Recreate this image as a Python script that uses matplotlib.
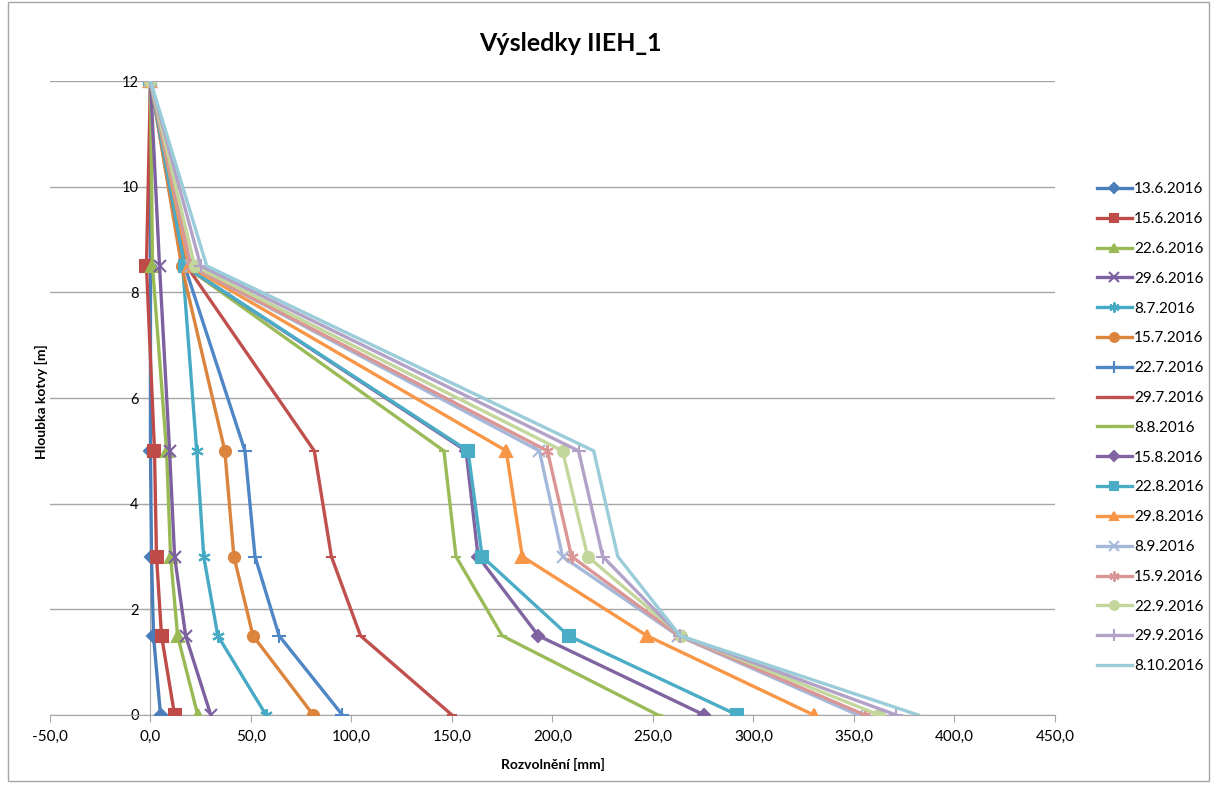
import matplotlib.pyplot as plt
from matplotlib.patches import Rectangle
import numpy as np

plt.rcParams['font.family'] = ['Lato', 'DejaVu Sans']

depths = [12, 8.5, 5, 3, 1.5, 0]

dates = ['13.6.2016', '15.6.2016', '22.6.2016', '29.6.2016', '8.7.2016',
         '15.7.2016', '22.7.2016', '29.7.2016', '8.8.2016', '15.8.2016',
         '22.8.2016', '29.8.2016', '8.9.2016', '15.9.2016', '22.9.2016',
         '29.9.2016', '8.10.2016']

v_13_6 = [0, 0, 0, 0.5, 1.5, 5]
v_15_6 = [0, -2, 2, 3, 5.5, 12]
v_22_6 = [0, 1, 8, 10, 13.5, 23.5]
v_29_6 = [0, 4.5, 9.5, 12, 17.5, 30]
v_8_7 = [0, 16, 23, 26.5, 33.5, 57.5]
v_15_7 = [0, 15.5, 37, 41.5, 51, 81]
v_22_7 = [0, 17, 47, 52, 64, 95.5]
v_29_7 = [0, 18, 81.5, 90, 104.5, 150]
v_8_8 = [0, 17, 146, 152, 175, 252.5]
v_15_8 = [0, 17, 157, 163, 193, 275.5]
v_22_8 = [0, 17, 158, 165, 208, 292]
v_29_8 = [0, 19, 177, 185, 247, 330]
v_8_9 = [0, 20, 193.5, 205, 262.5, 352]
v_15_9 = [0, 20, 197.5, 209.5, 263, 355.5]
v_22_9 = [0, 22, 205, 217.5, 264, 362.5]
v_29_9 = [0, 25, 213, 225, 263.5, 371]
v_8_10 = [0, 28, 220.5, 232.5, 263.5, 382]

values = [v_13_6, v_15_6, v_22_6, v_29_6, v_8_7, v_15_7, v_22_7, v_29_7,
          v_8_8, v_15_8, v_22_8, v_29_8, v_8_9, v_15_9, v_22_9, v_29_9, v_8_10]

colors = ['#4A7EBB', '#BE4B48', '#98B954', '#7D60A0', '#46AAC5', '#DB843D',
          '#4F86C6', '#C0504D', '#9BBB59', '#8064A2', '#4BACC6', '#F79646',
          '#A5B8D9', '#D99694', '#C3D69B', '#B3A2C7', '#9BCCDA']
markers = ['D', 's', '^', 'x', (6, 2, 0), 'o', '+', '_', '_', 'D', 's', '^',
           'x', (6, 2, 0), 'o', '+', 'None']
msizes = [6, 8, 8, 9, 9, 8, 10, 7, 7, 6, 8, 8, 9, 9, 8, 10, 6]

fig = plt.figure(figsize=(12.13, 7.87), dpi=100)
ax = fig.add_axes([0.0412, 0.0915, 0.8285, 0.8055])

for i in range(len(dates)):
    ax.plot(values[i], depths, color=colors[i], marker=markers[i],
            markersize=msizes[i], linewidth=2.4, markeredgewidth=1.5,
            label=dates[i], zorder=3)

ax.set_xlim(-50, 450)
ax.set_ylim(0, 12)
xt = np.arange(-50, 451, 50)
ax.set_xticks(xt)
ax.set_xticklabels([('%.1f' % t).replace('.', ',') for t in xt])
ax.set_yticks(range(0, 13, 2))
ax.yaxis.grid(True, color='#A6A6A6', linewidth=1)
ax.set_axisbelow(True)

for s in ['top', 'right']:
    ax.spines[s].set_visible(False)
ax.spines['left'].set_position(('data', 0))
ax.spines['left'].set_color('#A6A6A6')
ax.spines['bottom'].set_color('#A6A6A6')
ax.tick_params(axis='y', length=5, color='#A6A6A6', labelsize=10.5, direction='out')
ax.tick_params(axis='x', length=5, color='#A6A6A6', labelsize=11, direction='out', pad=6)

ax.set_xlabel('Rozvolnění [mm]', fontsize=10, fontweight='bold', labelpad=10)
fig.text(0.034, 0.49, 'Hloubka kotvy [m]', rotation=90, fontsize=10,
         fontweight='bold', ha='center', va='center')
fig.text(0.47, 0.945, 'Výsledky IIEH_1', fontsize=18, fontweight='bold',
         ha='center', va='center')

ax.legend(loc='upper left', bbox_to_anchor=(1.028, 0.862), frameon=False,
          fontsize=11, labelspacing=1.035, handlelength=2.3, handletextpad=0.15,
          markerscale=0.8)

fig.patches.append(Rectangle((0.007, 0.008), 0.99, 0.99, transform=fig.transFigure,
                             fill=False, edgecolor='#A6A6A6', linewidth=1))

fig.savefig('out.png', dpi=100)
